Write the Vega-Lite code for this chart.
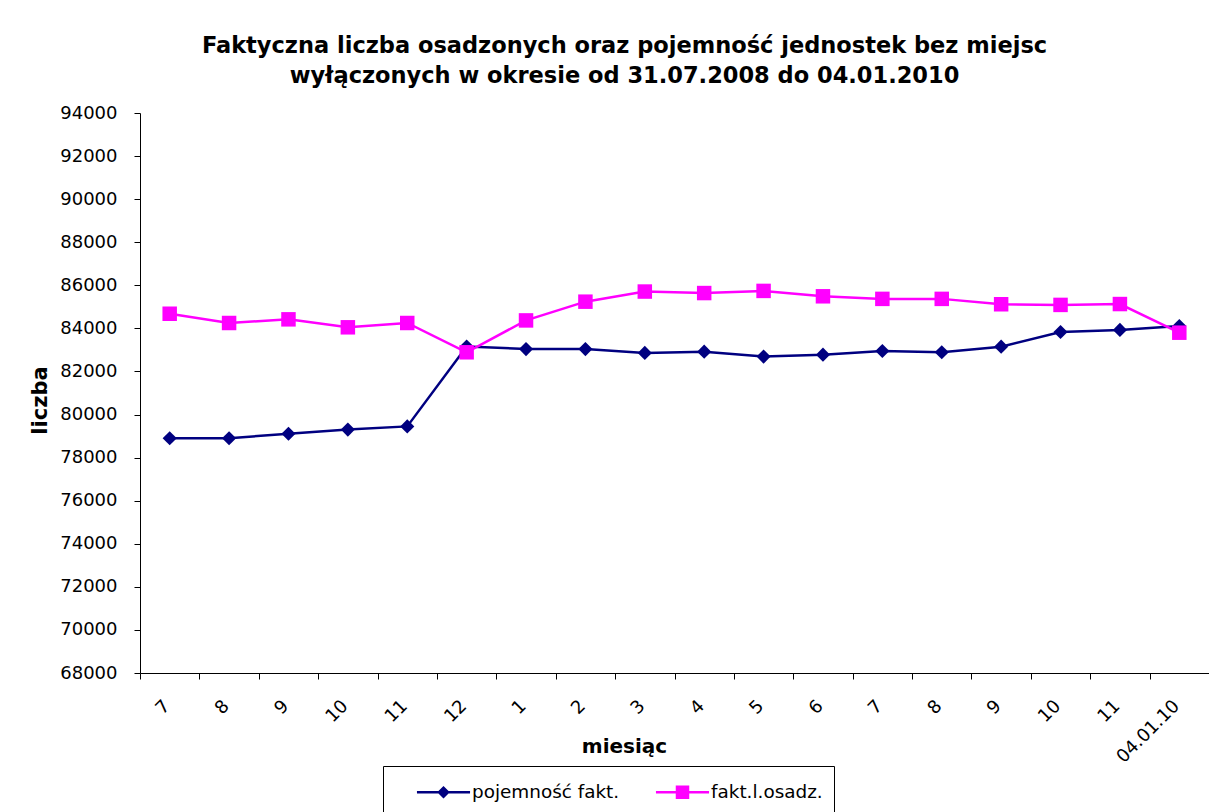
{
  "$schema": "https://vega.github.io/schema/vega-lite/v6.json",
  "width": 1069,
  "height": 560,
  "autosize": {"type": "none"},
  "padding": {"left": 140, "top": 113, "right": 0, "bottom": 139},
  "background": "white",
  "title": {
    "text": ["Faktyczna liczba osadzonych oraz pojemność jednostek bez miejsc", "wyłączonych w okresie od 31.07.2008 do 04.01.2010"],
    "font": "DejaVu Sans",
    "fontSize": 22.5,
    "fontWeight": "bold",
    "color": "black",
    "anchor": "middle",
    "dx": -50,
    "lineHeight": 30,
    "offset": 17
  },
  "config": {
    "view": {"stroke": null},
    "axis": {
      "labelFont": "DejaVu Sans",
      "labelColor": "black",
      "titleFont": "DejaVu Sans",
      "titleColor": "black",
      "titleFontWeight": "bold",
      "domainColor": "black",
      "tickColor": "black",
      "grid": false
    }
  },
  "resolve": {"legend": {"color": "independent", "shape": "independent"}},
  "data": {
    "values": [
      {"okres": "2008-07", "seria": "pojemność fakt.", "liczba": 78900},
      {"okres": "2008-08", "seria": "pojemność fakt.", "liczba": 78900},
      {"okres": "2008-09", "seria": "pojemność fakt.", "liczba": 79110},
      {"okres": "2008-10", "seria": "pojemność fakt.", "liczba": 79300},
      {"okres": "2008-11", "seria": "pojemność fakt.", "liczba": 79450},
      {"okres": "2008-12", "seria": "pojemność fakt.", "liczba": 83160},
      {"okres": "2009-01", "seria": "pojemność fakt.", "liczba": 83040},
      {"okres": "2009-02", "seria": "pojemność fakt.", "liczba": 83040},
      {"okres": "2009-03", "seria": "pojemność fakt.", "liczba": 82860},
      {"okres": "2009-04", "seria": "pojemność fakt.", "liczba": 82920},
      {"okres": "2009-05", "seria": "pojemność fakt.", "liczba": 82690},
      {"okres": "2009-06", "seria": "pojemność fakt.", "liczba": 82780},
      {"okres": "2009-07", "seria": "pojemność fakt.", "liczba": 82950},
      {"okres": "2009-08", "seria": "pojemność fakt.", "liczba": 82890},
      {"okres": "2009-09", "seria": "pojemność fakt.", "liczba": 83150},
      {"okres": "2009-10", "seria": "pojemność fakt.", "liczba": 83830},
      {"okres": "2009-11", "seria": "pojemność fakt.", "liczba": 83930},
      {"okres": "2010-01-04", "seria": "pojemność fakt.", "liczba": 84110},
      {"okres": "2008-07", "seria": "fakt.l.osadz.", "liczba": 84680},
      {"okres": "2008-08", "seria": "fakt.l.osadz.", "liczba": 84250},
      {"okres": "2008-09", "seria": "fakt.l.osadz.", "liczba": 84420},
      {"okres": "2008-10", "seria": "fakt.l.osadz.", "liczba": 84050},
      {"okres": "2008-11", "seria": "fakt.l.osadz.", "liczba": 84250},
      {"okres": "2008-12", "seria": "fakt.l.osadz.", "liczba": 82890},
      {"okres": "2009-01", "seria": "fakt.l.osadz.", "liczba": 84370},
      {"okres": "2009-02", "seria": "fakt.l.osadz.", "liczba": 85240},
      {"okres": "2009-03", "seria": "fakt.l.osadz.", "liczba": 85710},
      {"okres": "2009-04", "seria": "fakt.l.osadz.", "liczba": 85640},
      {"okres": "2009-05", "seria": "fakt.l.osadz.", "liczba": 85740},
      {"okres": "2009-06", "seria": "fakt.l.osadz.", "liczba": 85490},
      {"okres": "2009-07", "seria": "fakt.l.osadz.", "liczba": 85370},
      {"okres": "2009-08", "seria": "fakt.l.osadz.", "liczba": 85370},
      {"okres": "2009-09", "seria": "fakt.l.osadz.", "liczba": 85120},
      {"okres": "2009-10", "seria": "fakt.l.osadz.", "liczba": 85090},
      {"okres": "2009-11", "seria": "fakt.l.osadz.", "liczba": 85130},
      {"okres": "2010-01-04", "seria": "fakt.l.osadz.", "liczba": 83800}
    ]
  },
  "encoding": {
    "x": {
      "field": "okres",
      "type": "ordinal",
      "sort": null,
      "scale": {"type": "band", "paddingInner": 0, "paddingOuter": 0},
      "axis": {
        "title": "miesiąc",
        "titleFontSize": 20,
        "titleX": 484,
        "titleY": 79,
        "titleAlign": "center",
        "titleBaseline": "alphabetic",
        "labelExpr": "isString(datum.value) ? (datum.value === '2010-01-04' ? '04.01.10' : '' + toNumber(substring(datum.value, 5, 7))) : ''",
        "labelAngle": -45,
        "labelAlign": "right",
        "labelBaseline": "middle",
        "labelPadding": 24,
        "labelOffset": -3,
        "labelFontSize": 18,
        "labelOverlap": false,
        "tickBand": "extent",
        "tickSize": 6
      }
    },
    "y": {
      "field": "liczba",
      "type": "quantitative",
      "scale": {"domain": [68000, 94000], "nice": false, "zero": false},
      "axis": {
        "title": "liczba",
        "titleFontSize": 21,
        "titleX": -100,
        "titleY": 287,
        "titleAngle": -90,
        "titleAlign": "center",
        "titleBaseline": "middle",
        "values": [68000, 70000, 72000, 74000, 76000, 78000, 80000, 82000, 84000, 86000, 88000, 90000, 92000, 94000],
        "format": "d",
        "labelFontSize": 18,
        "labelPadding": 17,
        "labelOverlap": false,
        "tickSize": 6
      }
    },
    "color": {
      "field": "seria",
      "type": "nominal",
      "sort": null,
      "scale": {"domain": ["pojemność fakt.", "fakt.l.osadz."], "range": ["#000080", "#FF00FF"]},
      "legend": null
    }
  },
  "layer": [
    {
      "mark": {"type": "line", "strokeWidth": 2.5},
      "encoding": {}
    },
    {
      "transform": [{"filter": "datum.seria === 'pojemność fakt.'"}],
      "mark": {"type": "point", "filled": true, "size": 200, "opacity": 1, "shape": "diamond"},
      "encoding": {}
    },
    {
      "transform": [{"filter": "datum.seria === 'fakt.l.osadz.'"}],
      "mark": {"type": "point", "filled": true, "size": 210, "opacity": 1, "shape": "square"},
      "encoding": {}
    },
    {
      "mark": {"type": "point", "filled": true, "opacity": 0},
      "encoding": {
        "color": {
          "field": "seria",
          "type": "nominal",
          "sort": null,
          "legend": {
            "orient": "none",
            "legendX": 243,
            "legendY": 653,
            "direction": "horizontal",
            "title": null,
            "padding": 11,
            "strokeColor": "black",
            "fillColor": "white",
            "labelFont": "DejaVu Sans",
            "labelFontSize": 18.4,
            "labelColor": "black",
            "labelOffset": 48,
            "labelLimit": 400,
            "columnPadding": 13,
            "symbolSize": 900,
            "symbolOpacity": 1,
            "symbolStrokeWidth": 0
          }
        },
        "shape": {
          "field": "seria",
          "type": "nominal",
          "sort": null,
          "scale": {
            "domain": ["pojemność fakt.", "fakt.l.osadz."],
            "range": [
              "M0.53,-0.085H4.07V0.085H0.53ZM2.3,-0.42L2.72,0L2.3,0.42L1.88,0Z",
              "M0.53,-0.085H4.07V0.085H0.53ZM1.85,-0.45H2.75V0.45H1.85Z"
            ]
          },
          "legend": {
            "orient": "none",
            "legendX": 243,
            "legendY": 653,
            "direction": "horizontal",
            "title": null,
            "padding": 11,
            "strokeColor": "black",
            "fillColor": "white",
            "labelFont": "DejaVu Sans",
            "labelFontSize": 18.4,
            "labelColor": "black",
            "labelOffset": 48,
            "labelLimit": 400,
            "columnPadding": 13,
            "symbolSize": 900,
            "symbolOpacity": 1,
            "symbolStrokeWidth": 0
          }
        }
      }
    }
  ]
}
